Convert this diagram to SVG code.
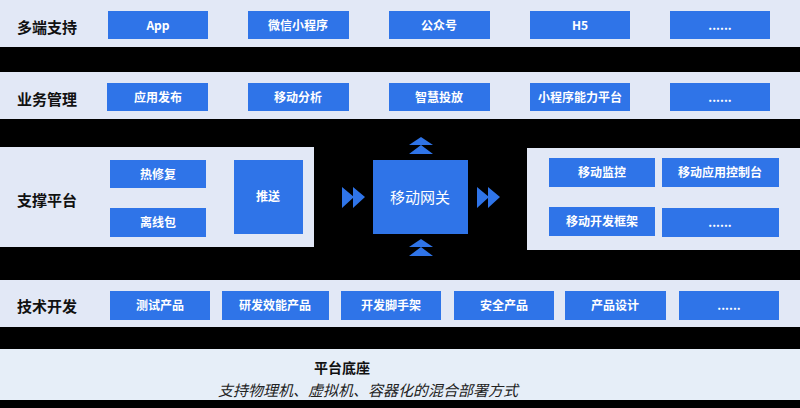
<svg xmlns="http://www.w3.org/2000/svg" width="800" height="408" viewBox="0 0 800 408">
<style>
.band{fill:#e2e8f6}
.b{fill:#2f74e8}
.lab{font-family:"Noto Sans CJK SC","Liberation Sans",sans-serif;font-weight:bold;font-size:15px;fill:#111}
.t{font-family:"Noto Sans CJK SC","Liberation Sans",sans-serif;font-weight:bold;font-size:12px;fill:#fff;text-anchor:middle}
.ar{fill:#2f74e8}
</style>
<rect width="800" height="408" fill="#000"/>
<g id="row1">
<rect class="band" x="0" y="0" width="800" height="47"/>
<text class="lab" x="17" y="33">多端支持</text>
<rect class="b" x="108" y="11" width="100" height="28"/><text class="t" x="158" y="30">App</text>
<rect class="b" x="248" y="11" width="101" height="28"/><text class="t" x="298" y="30">微信小程序</text>
<rect class="b" x="389" y="11" width="101" height="28"/><text class="t" x="439" y="30">公众号</text>
<rect class="b" x="530" y="11" width="100" height="28"/><text class="t" x="580" y="30">H5</text>
<rect class="b" x="670" y="11" width="100" height="28"/><text class="t" x="720" y="30">......</text>
</g>
<g id="row2">
<rect class="band" x="0" y="72" width="800" height="47"/>
<text class="lab" x="17" y="105">业务管理</text>
<rect class="b" x="107" y="83" width="101" height="28"/><text class="t" x="158" y="102">应用发布</text>
<rect class="b" x="248" y="83" width="101" height="28"/><text class="t" x="298" y="102">移动分析</text>
<rect class="b" x="389" y="83" width="101" height="28"/><text class="t" x="439" y="102">智慧投放</text>
<rect class="b" x="530" y="83" width="100" height="28"/><text class="t" x="580" y="102">小程序能力平台</text>
<rect class="b" x="670" y="83" width="100" height="28"/><text class="t" x="720" y="102">......</text>
</g>
<g id="row3-left">
<rect class="band" x="0" y="147" width="314" height="100"/>
<text class="lab" x="17" y="206">支撑平台</text>
<rect class="b" x="110" y="160" width="96" height="28"/><text class="t" x="158" y="179">热修复</text>
<rect class="b" x="110" y="208" width="96" height="29"/><text class="t" x="158" y="227">离线包</text>
<rect class="b" x="234" y="160" width="69" height="74"/><text class="t" x="268" y="201">推送</text>
</g>
<g id="gateway">
<rect class="b" x="373" y="160" width="95" height="74"/>
<text class="t" x="420" y="203" style="font-size:15px;font-weight:normal">移动网关</text>
</g>
<g id="row3-right">
<rect class="band" x="527" y="148" width="273" height="102"/>
<rect class="b" x="549" y="158" width="106" height="29"/><text class="t" x="602" y="177">移动监控</text>
<rect class="b" x="662" y="158" width="117" height="29"/><text class="t" x="720" y="177">移动应用控制台</text>
<rect class="b" x="549" y="207" width="106" height="29"/><text class="t" x="602" y="226">移动开发框架</text>
<rect class="b" x="662" y="208" width="117" height="29"/><text class="t" x="720" y="227">......</text>
</g>
<g id="connectors">
<path class="ar" d="M342 187 L354 197 L342 208 Z M353 187 L365 197 L353 208 Z"/>
<path class="ar" d="M477 187 L489 197 L477 208 Z M488 187 L500 197 L488 208 Z"/>
<path class="ar" d="M409 145 L421 137 L433 145 Z M409 154 L421 145 L433 154 Z"/>
<path class="ar" d="M409 247 L421 239 L433 247 Z M409 256 L421 247 L433 256 Z"/>
</g>
<g id="row4">
<rect class="band" x="0" y="280" width="800" height="47"/>
<text class="lab" x="17" y="312">技术开发</text>
<rect class="b" x="110" y="291" width="100" height="29"/><text class="t" x="160" y="310">测试产品</text>
<rect class="b" x="222" y="291" width="107" height="29"/><text class="t" x="275" y="310">研发效能产品</text>
<rect class="b" x="341" y="291" width="100" height="29"/><text class="t" x="391" y="310">开发脚手架</text>
<rect class="b" x="454" y="291" width="100" height="29"/><text class="t" x="504" y="310">安全产品</text>
<rect class="b" x="565" y="291" width="101" height="29"/><text class="t" x="615" y="310">产品设计</text>
<rect class="b" x="679" y="291" width="100" height="29"/><text class="t" x="729" y="310">......</text>
</g>
<g id="base">
<rect x="0" y="349" width="800" height="51" fill="#e6eef8"/>
<text x="342" y="373" text-anchor="middle" style="font-family:'Noto Sans CJK SC',sans-serif;font-weight:bold;font-size:14px;fill:#111">平台底座</text>
<text x="368" y="396" text-anchor="middle" style="font-family:'Noto Sans CJK SC',sans-serif;font-style:italic;font-size:15px;fill:#222">支持物理机、虚拟机、容器化的混合部署方式</text>
</g>
</svg>
